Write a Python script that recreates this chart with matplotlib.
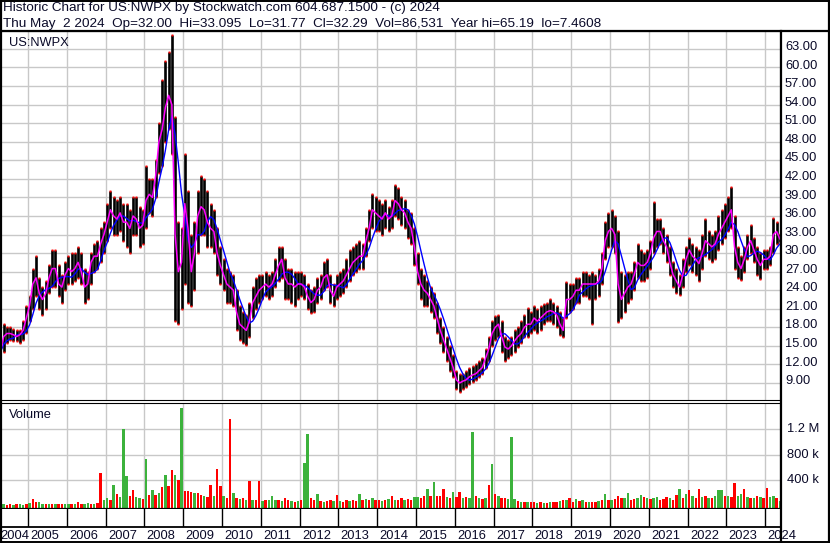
import numpy as np
import pandas as pd
import matplotlib
matplotlib.use("Agg")
import matplotlib.pyplot as plt
from matplotlib.lines import Line2D

plt.rcParams['font.family'] = ['Liberation Sans', 'DejaVu Sans']

# monthly price data, Apr 2004 .. May 2024 (one row per year)
month_close = [
    14, 16.5, 17, 17, 16.8, 16.5, 16.8, 17.5, 19.5,                  # 2004 (Apr-Dec)
    21.5, 25, 26, 23.5, 22.5, 23.5, 26, 27.5, 27.5, 25, 24.5, 26.5,   # 2005
    27.5, 27, 27.5, 28.5, 27, 24.5, 25, 28.5, 29.5, 29.5, 31.5, 33,   # 2006
    35, 37, 36, 35.5, 36.5, 35, 35, 34, 36, 35.5, 34, 34.5,           # 2007
    38.5, 39.5, 39, 42.5, 48, 50, 53.5, 55.5, 54, 33, 27, 28.5,       # 2008
    38, 34, 27, 30, 36, 37.5, 37, 35, 34, 33.5, 30, 28,               # 2009
    26.5, 25, 24.5, 24, 20.5, 18.5, 18, 17.5, 19, 22, 23, 24,         # 2010
    24.5, 25, 24.5, 25, 26.5, 28, 29, 26, 25, 25, 24.5, 25,           # 2011
    25, 24.5, 23, 22, 22.5, 24, 24.5, 26, 26.5, 24, 23, 24.5,         # 2012
    25, 25.5, 26.5, 27.5, 28.5, 29, 29.5, 29.5, 32, 34, 37, 36.5,     # 2013
    36, 35.5, 36.5, 35.5, 36, 38.5, 38, 37, 36.5, 35, 34, 31,         # 2014
    27, 25, 24, 23.5, 22.5, 21.5, 19.5, 17.5, 16, 14.5, 13, 11.5,     # 2015
    9.5, 9, 9.3, 9.5, 10, 10.3, 10.5, 11, 11.5, 13, 14.5, 17,         # 2016
    18, 18.5, 16.5, 14.8, 14.5, 15, 15.8, 16.5, 17, 18, 18.5, 18.5,   # 2017
    19.5, 19, 19.5, 20, 20.5, 20.7, 20.5, 20, 18.5, 17.5, 22.5, 22.5, # 2018
    23, 24, 24, 25, 25, 25, 25, 25, 25.5, 27.5, 32, 33.5,             # 2019
    34, 33, 25, 22.5, 23.5, 24.5, 25, 26.5, 28.5, 28, 28, 28.5,       # 2020
    30, 32.5, 33.5, 33.5, 32, 31, 28.5, 26.5, 25.5, 24.5, 26.5, 29,   # 2021
    30.5, 29.5, 29, 28.3, 30, 32, 31.5, 31, 31.5, 33, 34, 35,         # 2022
    36, 37, 31, 28.5, 27.5, 29, 31, 32, 30.5, 29, 28, 29,             # 2023
    29, 29.5, 33, 33.5, 32.3,                                         # 2024 (Jan-May)
]
month_high = [
    15.5, 18.5, 18, 18, 17.8, 17.5, 17.5, 19, 21.5,
    23, 27.5, 29.5, 26, 24.5, 25.5, 28, 30.5, 30.5, 28, 26.5, 28.5,
    29.5, 30, 30, 31, 30, 27.5, 27, 30, 31.5, 32, 34, 35,
    38, 40, 39, 38.5, 39, 38, 38, 37, 39, 39, 37.5, 37,
    44, 42, 42, 45, 51, 58, 61, 62.5, 65.2, 52, 35, 34,
    46, 40, 33, 35, 40, 42.5, 42, 40, 38, 37, 34, 31,
    29, 27.5, 27, 26.5, 24, 21.5, 20.5, 20, 22, 24.5, 26, 26.5,
    26.5, 27, 26.5, 27, 29, 31, 31, 29, 27.5, 27.5, 27, 27,
    27, 26.5, 25, 24, 24.5, 26, 26.5, 28.5, 29, 26.5, 25, 26.5,
    27, 27.5, 29, 30.5, 31, 31.5, 32, 31.5, 34, 37, 39.5, 39,
    38.5, 38, 38.5, 37.5, 38.5, 41, 40.5, 39, 38.5, 37, 36.5, 34,
    30, 27.5, 26.5, 25.5, 24.5, 23.5, 22, 19.5, 18, 16.5, 15, 13.5,
    11, 10.5, 10.5, 11, 11.5, 11.8, 12, 12.5, 13, 14.5, 16.5, 19,
    19.8, 20, 19, 16.5, 16, 16.5, 17.5, 18, 19, 20, 21.2, 20.5,
    21.5, 21, 21.5, 21.7, 22, 22.5, 22, 21.5, 20.5, 19.5, 25.3, 25,
    25, 26, 26, 27, 27, 26.5, 27, 26.5, 27.5, 30, 35, 36.5,
    37, 36, 33.5, 27, 26.5, 27, 27, 28.5, 31.5, 30.5, 30, 30.5,
    32, 38.3, 35.5, 35.5, 34, 33, 31, 28.5, 27.5, 26.5, 29, 31,
    32.5, 31.5, 31, 30.5, 33, 35.5, 33.5, 33, 33.5, 36, 37, 38,
    39, 40.7, 36, 31, 29.5, 31, 33, 34.5, 32.5, 31, 30, 30.5,
    30.5, 31, 35.6, 35, 33.1,
]
month_low = [
    12.8, 14, 15.5, 16, 15.8, 15.8, 15.5, 16, 17,
    19, 21, 23, 21, 20, 21, 23.5, 24.5, 24.5, 23, 22, 24,
    25, 25, 25.5, 26, 25, 22, 22.5, 25, 27, 27.5, 28.5, 30,
    32, 34, 33, 33, 33.5, 32, 31, 30, 33, 33, 31, 31.5,
    34, 36.5, 36, 39, 43, 44, 48, 50, 46, 19, 18.5, 21,
    25, 22, 21.5, 24, 30, 33, 33, 31, 31, 30, 26.5, 25,
    24, 22, 22, 21.5, 17.5, 16, 15.5, 15.2, 16.5, 19.5, 21, 22,
    22.5, 23, 22.5, 23, 24.5, 25.5, 26, 22.5, 22.5, 22, 21.5, 22.5,
    23, 22.5, 21, 20.3, 20.5, 22, 22.5, 24, 24.5, 22, 21.5, 22.5,
    23, 23.5, 24.5, 25.5, 26.5, 27, 27.5, 27.5, 29.5, 32, 34, 33.5,
    33.5, 33, 34, 33.5, 34, 36, 35.5, 34.5, 34, 32.5, 31.5, 28,
    25, 22.5, 21.5, 21.5, 20.5, 19.5, 17, 15.5, 14, 12.5, 11, 10,
    8, 7.5, 8, 8.3, 8.8, 9.2, 9.5, 10, 10.5, 11.5, 12.5, 15,
    16, 16.5, 14, 12.6, 13, 13.5, 14, 14.8, 15.5, 16.5, 16.5, 17,
    17.5, 17, 17.5, 18.5, 19, 19, 18.5, 18, 16.8, 16.5, 19.5, 20.5,
    21, 22, 22, 23, 23, 22.5, 18.5, 22.5, 23, 25, 29, 31,
    31, 30, 18.8, 19.5, 20.5, 22, 22.5, 24, 26, 25.5, 25.5, 26,
    27.5, 30, 31, 31.5, 30, 28.5, 26.5, 24.5, 23.5, 23.2, 24.5, 27,
    28, 27, 26.5, 25.5, 27.5, 29.5, 29, 28.5, 29, 30.5, 31.5, 32.5,
    33.5, 34, 27.5, 26, 25.7, 27, 29, 30, 28.5, 26.5, 25.8, 27.5,
    27.5, 28, 30, 31.5, 31.8,
]
# monthly peak volume, thousands of shares
month_volume = [
    45, 25, 20, 25, 20, 30, 25, 20, 30,
    50, 115, 60, 70, 40, 35, 30, 35, 30, 25, 30, 35,
    40, 35, 30, 65, 35, 40, 45, 35, 40, 45, 510, 90,
    120, 100, 335, 190, 140, 1200, 470, 150, 250, 140, 120, 110,
    730, 180, 250, 170, 200, 300, 480, 310, 560, 490, 400, 1520,
    240, 230, 220, 200, 210, 170, 150, 140, 335, 150, 575, 310,
    150, 120, 1360, 200, 130, 110, 120, 100, 390, 100, 90, 390,
    80, 90, 100, 150, 90, 100, 80, 120, 90, 80, 70, 80,
    90, 675, 1125, 120, 90, 185, 80, 70, 80, 90, 80, 170,
    80, 70, 90, 80, 100, 80, 185, 90, 110, 100, 120, 90,
    90, 80, 100, 110, 150, 100, 90, 120, 100, 110, 100, 140,
    140, 130, 150, 262, 150, 377, 150, 160, 262, 140, 130, 220,
    140, 220, 130, 140, 120, 1145, 150, 120, 110, 130, 324, 654,
    190, 150, 130, 120, 110, 1067, 115, 80, 70, 60, 70, 60,
    60, 50, 60, 50, 55, 70, 60, 70, 80, 90, 100, 125,
    70, 105, 80, 90, 70, 60, 70, 65, 80, 100, 183, 100,
    100, 110, 150, 130, 120, 205, 100, 110, 120, 170, 140, 120,
    110, 120, 140, 100, 110, 140, 120, 100, 170, 262, 130, 183,
    246, 150, 130, 262, 140, 160, 130, 120, 150, 257, 246, 150,
    150, 140, 356, 160, 190, 267, 140, 130, 120, 150, 140, 130,
    288, 140, 150, 120, 87,
]
# g = up day volume, r = down day volume
volume_side = ("ggrrgrggr" "grrggrgrgrrg" "grgrrggrgrrg" "grgrgggrrggr" "grgrgrgrrgrg"
               "rrrgrrgrrgrr" "grrgrgrgrgrr" "grgggrgrrgrg" "rggrrgrgrrgr" "grrgrrgrgrgr"
               "rgrgrgrrgrrg" "grrgrgrrrgrg" "rrgrggrgrgrg" "rgrrgggrgrgr" "rgrgrgrrgrgr"
               "rgrgrgrrgrgr" "grrrggrrggrg" "rggrrrgrrgrg" "rgrrgrgrgggr" "grrggrgrgrgr"
               "rggrg")

years = list(range(2004, 2025))
price_ticks = np.arange(9, 64, 3)
vol_ticks = [400, 800, 1200]
vol_labels = ["400 k", "800 k", "1.2 M"]

months = pd.date_range("2004-04-01", periods=len(month_close), freq="MS")
t = months.year + (months.month - 0.5) / 12.0
close = np.array(month_close)
blue_ma = pd.Series(close).rolling(5, min_periods=1).mean()

W, H = 830, 543
fig = plt.figure(figsize=(W / 100, H / 100), dpi=100)
fig.patch.set_facecolor("white")
txt = "#0a0a28"
fs = 9.3
XL = (2004.28, 2024.38)


def fx(px):
    return px / W


def fy(py):
    return 1 - py / H


def add_ax(top, bottom):
    return fig.add_axes([0, fy(bottom), fx(780), (bottom - top) / H])


grid_c = "#c8c8c8"

# price panel
ax = add_ax(31, 400)
ax.set_xlim(*XL)
ax.set_ylim(6.25, 65.9)
for v in price_ticks:
    ax.axhline(v, color=grid_c, lw=1, zorder=0)
for y in years[1:]:
    ax.axvline(y, color=grid_c, lw=1, zorder=0)
ax.vlines(t, month_low, month_high, colors="black", linewidth=1.9, zorder=2)
ax.plot(t, month_high, "s", color="#ff0000", ms=1.4, mew=0, zorder=3)
ax.plot(t, month_low, "s", color="#ff0000", ms=1.4, mew=0, zorder=3)
ax.plot(t, blue_ma, color="#0000ff", lw=1.0, zorder=4)
ax.plot(t, close, color="#ff00ff", lw=1.1, zorder=5)
ax.set_xticks([])
ax.set_yticks([])
for s in ax.spines.values():
    s.set_color("black")
    s.set_linewidth(0.8)
ax.text(fx(9), fy(46), "US:NWPX", transform=fig.transFigure, fontsize=fs,
        color=txt, va="baseline", ha="left")
for v in price_ticks:
    ax.text(785 / 780 * (XL[1] - XL[0]) + XL[0], v + 0.3, f"{v:.2f}", fontsize=fs,
            color=txt, va="center", ha="left", clip_on=False)

# volume panel
vax = add_ax(402.5, 509)
vax.set_xlim(*XL)
vax.set_ylim(-45, 1610)
for v in vol_ticks:
    vax.axhline(v, color=grid_c, lw=1, zorder=0)
for y in years[1:]:
    vax.axvline(y, color=grid_c, lw=1, zorder=0)
cols = ["#3cb23c" if c == "g" else "#ff0000" for c in volume_side]
vax.bar(t, np.array(month_volume) + 45, bottom=-45, width=0.75 / 12, color=cols,
        linewidth=0, zorder=2)
vax.set_xticks([])
vax.set_yticks([])
for s in vax.spines.values():
    s.set_color("black")
    s.set_linewidth(0.8)
vax.spines["bottom"].set_linewidth(1.6)
vax.text(fx(9), fy(418), "Volume", transform=fig.transFigure, fontsize=fs,
         color=txt, va="baseline", ha="left")
for v, lab in zip(vol_ticks, vol_labels):
    vax.text(787 / 780 * (XL[1] - XL[0]) + XL[0], v, lab, fontsize=fs,
             color=txt, va="center", ha="left", clip_on=False)

# date strip
dax = add_ax(509, 527)
dax.set_xlim(*XL)
dax.set_ylim(0, 1)
for y in years[1:]:
    dax.axvline(y, color="black", lw=1.0)
dax.set_xticks([])
dax.set_yticks([])
for s in dax.spines.values():
    s.set_visible(False)
dax.spines["bottom"].set_visible(True)
dax.spines["bottom"].set_linewidth(1.3)
for y in years:
    xpos = max(y + 0.06, XL[0] + 0.01)
    dax.text(xpos, -0.15, str(y), fontsize=fs, color=txt, ha="left", va="top",
             transform=dax.transData, clip_on=False)

# header
fs_head = 9.7
fig.text(fx(3), fy(11.5), "Historic Chart for US:NWPX by Stockwatch.com 604.687.1500 - (c) 2024",
         fontsize=fs_head, color=txt, va="baseline")
fig.text(fx(3), fy(26.5),
         "Thu May  2 2024  Op=32.00  Hi=33.095  Lo=31.77  Cl=32.29  Vol=86,531  Year hi=65.19  lo=7.4608",
         fontsize=fs_head, color=txt, va="baseline")


# frame lines
def hline(py, x0, x1, lw):
    fig.add_artist(Line2D([fx(x0), fx(x1)], [fy(py), fy(py)], color="black", lw=lw))


def vline(px, y0, y1, lw):
    fig.add_artist(Line2D([fx(px), fx(px)], [fy(y0), fy(y1)], color="black", lw=lw))


hline(0.5, 0, W, 1.4)
hline(30.5, 0, W, 1.6)
hline(542, 0, W, 1.4)
vline(0.8, 0, H, 1.6)
vline(829, 0, H, 1.6)
vline(780.5, 31, H, 1.6)

fig.savefig("out.png", dpi=100)
